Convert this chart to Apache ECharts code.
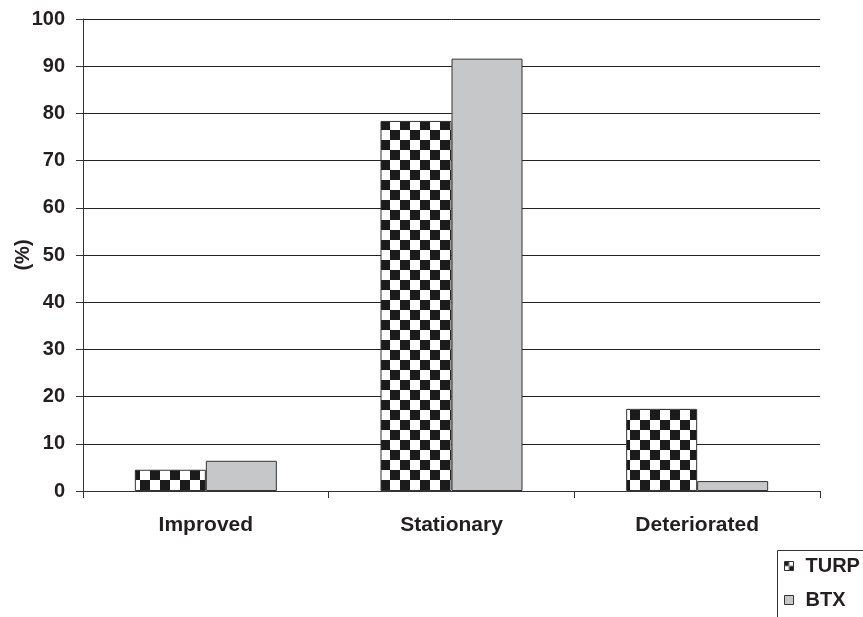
<!DOCTYPE html>
<html>
<head>
<meta charset="utf-8">
<script src="https://cdn.jsdelivr.net/npm/echarts@6/dist/echarts.min.js"></script>
<style>
  html, body { margin: 0; padding: 0; background: #fff; }
  #chart { width: 863px; height: 617px; }
</style>
</head>
<body>
<div id="chart"></div>
<script>
// Outcome categories and percentages per treatment
const categories = ['Improved', 'Stationary', 'Deteriorated'];
const turpValues = [4.5, 78.4, 17.4];
const btxValues = [6.4, 91.6, 2.1];
const yTicks = { min: 0, max: 100, interval: 10 };
const yTitle = '(%)';

// Checkerboard fill for the TURP bars
function checker(cell) {
  const c = document.createElement('canvas');
  c.width = cell * 2; c.height = cell * 2;
  const g = c.getContext('2d');
  g.fillStyle = '#ffffff';
  g.fillRect(0, 0, c.width, c.height);
  g.fillStyle = '#1b1b1b';
  g.fillRect(0, 0, cell, cell);
  g.fillRect(cell, cell, cell, cell);
  return { image: c, repeat: 'repeat' };
}

const ink = '#231f20';
const font = '"Liberation Sans", Arial, sans-serif';

const chart = echarts.init(document.getElementById('chart'), null, { renderer: 'canvas' });
chart.setOption({
  animation: false,
  backgroundColor: '#ffffff',
  grid: { left: 83, right: 43, top: 19, bottom: 126, containLabel: false, outerBoundsMode: 'none' },
  legend: {
    orient: 'vertical',
    left: 784,
    top: 556,
    itemWidth: 9,
    itemHeight: 9,
    itemGap: 14,
    padding: 0,
    textStyle: { fontFamily: font, fontWeight: 'bold', fontSize: 20, color: ink, padding: [0, 0, 0, 7] },
    data: [
      { name: 'TURP', icon: 'rect', itemStyle: { color: checker(4.5), borderColor: '#333', borderWidth: 1 } },
      { name: 'BTX', icon: 'rect', itemStyle: { color: '#c6c7c9', borderColor: '#333', borderWidth: 1 } }
    ]
  },
  graphic: [
    {
      // legend frame running off the lower-right corner
      type: 'rect',
      shape: { x: 777.5, y: 550.5, width: 120, height: 100 },
      style: { fill: 'none', stroke: '#333', lineWidth: 1 },
      silent: true
    },
    {
      // vertical axis title
      type: 'text',
      x: 23,
      y: 255,
      rotation: Math.PI / 2,
      style: {
        text: yTitle,
        fontFamily: font, fontWeight: 'bold', fontSize: 20, fill: ink,
        align: 'center', verticalAlign: 'middle'
      },
      silent: true
    }
  ],
  xAxis: {
    type: 'category',
    data: categories,
    axisLine: { lineStyle: { color: '#333', width: 1 } },
    axisTick: { show: true, length: 7, lineStyle: { color: '#333' } },
    axisLabel: { fontFamily: font, fontWeight: 'bold', fontSize: 21, color: ink, margin: 24 }
  },
  yAxis: {
    type: 'value',
    min: yTicks.min,
    max: yTicks.max,
    interval: yTicks.interval,
    axisLine: { show: true, lineStyle: { color: '#333', width: 1 } },
    axisTick: { show: true, length: 7, lineStyle: { color: '#333' } },
    axisLabel: { fontFamily: font, fontWeight: 'bold', fontSize: 20, color: ink, margin: 18 },
    splitLine: { show: true, lineStyle: { color: '#222', width: 1 } }
  },
  series: [
    {
      name: 'TURP',
      type: 'bar',
      data: turpValues,
      barWidth: 71,
      barGap: '0%',
      itemStyle: { color: checker(10), borderColor: '#333', borderWidth: 1 }
    },
    {
      name: 'BTX',
      type: 'bar',
      data: btxValues,
      barWidth: 71,
      barGap: '0%',
      itemStyle: { color: '#c6c7c9', borderColor: '#333', borderWidth: 1 }
    }
  ]
});
</script>
</body>
</html>
